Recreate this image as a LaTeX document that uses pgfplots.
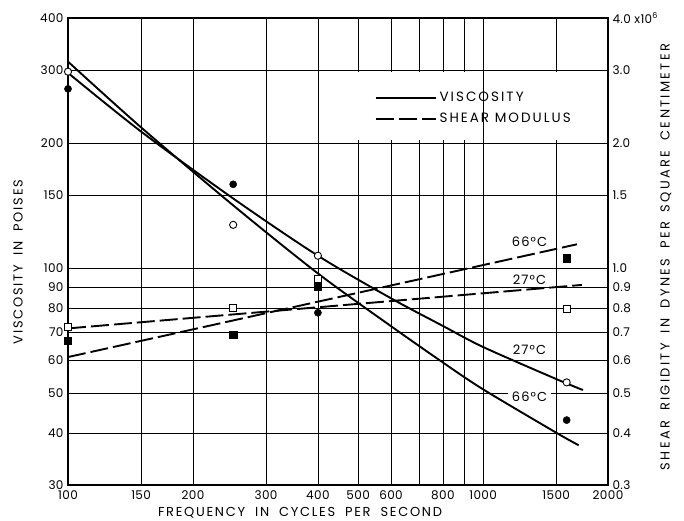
\documentclass[border=0pt]{standalone}
\usepackage{fontspec}
\setmainfont{Poppins}
\newfontfamily\lblfont{Poppins}[LetterSpace=9]
\newfontfamily\xlblfont{Poppins}[LetterSpace=13]
\newfontfamily\ylblfont{Poppins}[LetterSpace=13]
\newfontfamily\rlblfont{Poppins}[LetterSpace=18]
\newfontfamily\legfont{Poppins}[LetterSpace=15]
\newfontfamily\tickfont{Poppins}[LetterSpace=3]
\usepackage{pgfplots}
\pgfplotsset{compat=1.18}

\pgfplotstableread{
x y
100 295
150 213
250 147
400 107
600 84.5
800 72.5
1000 64.5
1500 54
1740 50.8
}\viscA
\pgfplotstableread{
x y
100 314
150 218
250 141.5
400 97
600 72.4
800 59.2
1000 51
1500 40.1
1700 37.4
}\viscB
\pgfplotstableread{
x y
100 71.5
1730 91
}\shearA
\pgfplotstableread{
x y
100 61
1683 114
}\shearB

\begin{document}
\begin{tikzpicture}
\useasboundingbox (-68pt,-36pt) rectangle (616pt,485pt);
\begin{axis}[
  at={(0pt,0pt)}, anchor=south west,
  scale only axis, width=540pt, height=467pt,
  xmode=log, ymode=log,
  xmin=100, xmax=2000, ymin=30, ymax=400,
  xtick={100,150,200,300,400,500,600,700,800,900,1000,1500,2000},
  xticklabels={100,150,200,300,400,500,600,{},800,{},1000,1500,2000},
  ytick={30,40,50,60,70,80,90,100,150,200,300,400},
  yticklabels={30,40,50,60,70,80,90,100,150,200,300,400},
  grid=major, major grid style={black, line width=0.5pt},
  major tick length=0pt,
  axis line style={line width=1.4pt},
  ticklabel style={font=\tickfont\fontsize{12}{13}\selectfont},
  xticklabel style={yshift=-2.5pt},
  yticklabel style={xshift=-1pt},
  legend style={at={(rel axis cs:0.562,0.848)}, anchor=north west, draw=none, fill=none,
    font=\legfont\fontsize{13.5}{14}\selectfont, row sep=8pt, legend cell align=left,
    nodes={inner sep=1pt}},
  legend image code/.code={\draw[#1] (0pt,0pt) -- (60pt,0pt);},
]
\addlegendimage{black, line width=1.9pt}
\addlegendimage{black, line width=1.9pt, dash pattern=on 18pt off 5pt}
\legend{\hspace{2pt}VISCOSITY, \hspace{2pt}SHEAR MODULUS}
\fill[white] (axis cs:497,203) rectangle (axis cs:1985,296);
\draw[black, line width=1.1pt] (axis cs:1000,30) -- (axis cs:1000,400);
\addplot[black, line width=1.9pt, smooth] table {\viscA};
\addplot[black, line width=1.9pt, smooth] table {\viscB};
\addplot[black, line width=1.9pt, dash pattern=on 18pt off 5pt] table {\shearA};
\addplot[black, line width=1.9pt, dash pattern=on 18pt off 5pt] table {\shearB};
% viscosity 27C (open circles)
\addplot[only marks, mark=*, mark size=3.6pt, mark options={fill=white, draw=black, line width=0.9pt}]
  coordinates {(100,297) (250,127) (400,107) (1590,53)};
% viscosity 66C (filled circles)
\addplot[only marks, mark=*, mark size=3.6pt, mark options={fill=black, draw=black}]
  coordinates {(100,270) (250,159) (400,78) (1590,43)};
% shear 66C (filled squares)
\addplot[only marks, mark=square*, mark size=3.6pt, mark options={fill=black, draw=black}]
  coordinates {(100,66.7) (250,69.2) (400,90) (1590,105.5)};
% shear 27C (open squares)
\addplot[only marks, mark=square*, mark size=3.6pt, mark options={fill=white, draw=black, line width=0.9pt}]
  coordinates {(100,72) (250,80) (400,94) (1590,79.6)};
\node[fill=white, inner sep=1pt, font=\lblfont\fontsize{13}{14}\selectfont] at (axis cs:1294,115.5) {66°C};
\node[fill=white, inner sep=1pt, font=\lblfont\fontsize{13}{14}\selectfont] at (axis cs:1294,93.5) {27°C};
\node[fill=white, inner sep=1pt, font=\lblfont\fontsize{13}{14}\selectfont] at (axis cs:1294,63.4) {27°C};
\node[fill=white, inner xsep=4pt, inner ysep=1pt, font=\lblfont\fontsize{13}{14}\selectfont] at (axis cs:1294,48.9) {66°C};
\end{axis}
\begin{axis}[
  at={(0pt,0pt)}, anchor=south west,
  scale only axis, width=540pt, height=467pt,
  xmode=log, ymode=log,
  xmin=100, xmax=2000, ymin=0.3, ymax=4,
  axis x line=none, axis y line*=right,
  ytick={0.3,0.4,0.5,0.6,0.7,0.8,0.9,1.0,1.5,2.0,3.0,4.0},
  yticklabels={0.3,0.4,0.5,0.6,0.7,0.8,0.9,1.0,1.5,2.0,3.0,{4.0 x10\textsuperscript{6}}},
  major tick length=0pt,
  axis line style={line width=1.4pt},
  ticklabel style={font=\tickfont\fontsize{12}{13}\selectfont},
  yticklabel style={anchor=west, xshift=1pt},
]
\addplot[draw=none] coordinates {(100,1)};
\end{axis}
\node[rotate=90, font=\ylblfont\fontsize{13}{14}\selectfont] at (-50pt,223pt) {VISCOSITY\hspace{10pt}IN\hspace{10pt}POISES};
\node[rotate=90, font=\rlblfont\fontsize{13}{14}\selectfont] at (598pt,228pt) {SHEAR\hspace{10pt}RIGIDITY\hspace{10pt}IN\hspace{10pt}DYNES\hspace{10pt}PER\hspace{10pt}SQUARE\hspace{10pt}CENTIMETER};
\node[font=\xlblfont\fontsize{13}{14}\selectfont] at (232pt,-28pt) {FREQUENCY\hspace{10pt}IN\hspace{10pt}CYCLES\hspace{10pt}PER\hspace{10pt}SECOND};
\end{tikzpicture}
\end{document}
